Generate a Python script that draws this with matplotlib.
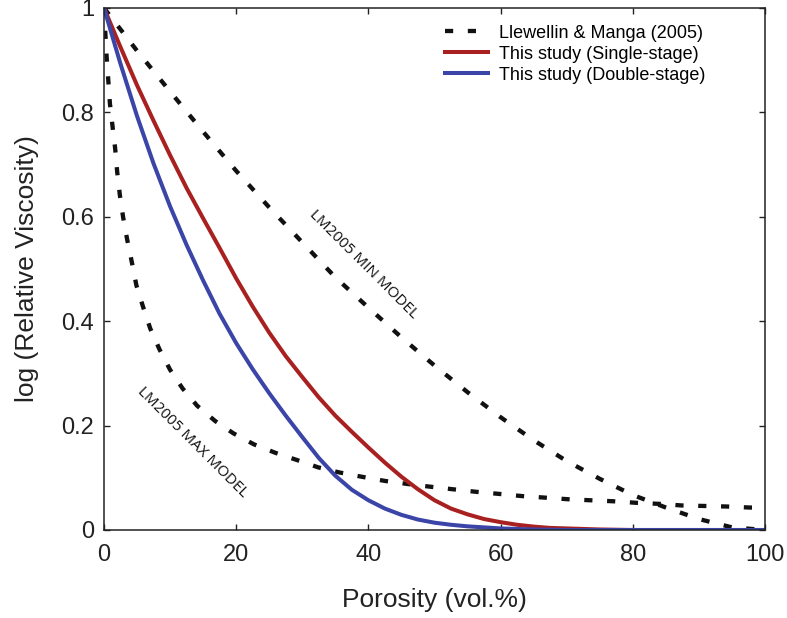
import matplotlib
matplotlib.use("Agg")
import matplotlib.pyplot as plt

# Llewellin & Manga (2005) minimum and maximum models
lm_min_phi = [0, 5, 10, 15, 20, 25, 30, 35, 40, 45, 50, 55, 60, 65, 70, 75, 80, 85, 90, 95, 100]
lm_min_val = [1.0, 0.918, 0.840, 0.763, 0.688, 0.618, 0.551, 0.484, 0.426, 0.369, 0.315,
              0.264, 0.216, 0.172, 0.132, 0.098, 0.067, 0.043, 0.021, 0.005, 0.0]

lm_max_phi = [0, 0.4, 0.9, 1.3, 1.7, 2.0, 2.4, 2.9, 3.5, 4.2, 4.9, 5.9, 7.0, 8.4, 10.0, 11.9,
              14.1, 16.8, 19.6, 22.7, 25.9, 29.2, 32.4, 35.7, 39.0, 42.5, 46.0, 49.3, 52.8,
              56.4, 59.9, 63.2, 66.7, 70.1, 73.5, 77.1, 80.6, 84.1, 87.4, 90.9, 94.2, 97.7, 100]
lm_max_val = [1.0, 0.907, 0.817, 0.773, 0.730, 0.686, 0.642, 0.599, 0.557, 0.514, 0.469, 0.428,
              0.386, 0.346, 0.307, 0.271, 0.238, 0.209, 0.185, 0.164, 0.148, 0.134, 0.120, 0.110,
              0.102, 0.094, 0.088, 0.083, 0.078, 0.073, 0.069, 0.065, 0.062, 0.059, 0.057, 0.055,
              0.052, 0.050, 0.047, 0.046, 0.045, 0.043, 0.043]

# this study
phi = [0, 2.5, 5, 7.5, 10, 12.5, 15, 17.5, 20, 22.5, 25, 27.5, 30, 32.5, 35, 37.5, 40, 42.5,
       45, 47.5, 50, 52.5, 55, 57.5, 60, 62.5, 65, 67.5, 70, 72.5, 75, 80, 90, 100]
single_stage = [1.0, 0.925, 0.852, 0.784, 0.718, 0.655, 0.597, 0.540, 0.482, 0.428, 0.378,
                0.333, 0.293, 0.254, 0.219, 0.188, 0.158, 0.129, 0.102, 0.078, 0.057, 0.041,
                0.030, 0.021, 0.015, 0.010, 0.0065, 0.004, 0.003, 0.002, 0.001, 0.0, 0.0, 0.0]
double_stage = [1.0, 0.893, 0.793, 0.702, 0.620, 0.546, 0.478, 0.414, 0.358, 0.308, 0.262,
                0.219, 0.178, 0.138, 0.104, 0.077, 0.057, 0.041, 0.029, 0.020, 0.014, 0.010,
                0.007, 0.005, 0.003, 0.002, 0.001, 0.0005, 0.0, 0.0, 0.0, 0.0, 0.0, 0.0]

plt.rcParams['font.family'] = ['Liberation Sans', 'DejaVu Sans']

fig = plt.figure(figsize=(7.87, 6.18), dpi=100)
ax = fig.add_axes([0.1321, 0.1424, 0.840, 0.8447])

dots = (0, (1.9, 3.4))
ax.plot(lm_min_phi, lm_min_val, color='#111111', lw=3.1, ls=dots, label='Llewellin & Manga (2005)')
ax.plot(lm_max_phi, lm_max_val, color='#111111', lw=3.1, ls=dots)
ax.plot(phi, single_stage, color='#a8201f', lw=2.9, label='This study (Single-stage)')
ax.plot(phi, double_stage, color='#3b45a8', lw=2.9, label='This study (Double-stage)')

ax.text(39.3, 0.508, 'LM2005 MIN MODEL', rotation=-45, ha='center', va='center',
        rotation_mode='anchor', fontsize=11, family='Open Sans', color='#111111')
ax.text(13.3, 0.168, 'LM2005 MAX MODEL', rotation=-45, ha='center', va='center',
        rotation_mode='anchor', fontsize=11, family='Open Sans', color='#111111')

ax.set_xlim(0, 100)
ax.set_ylim(0, 1)
ax.set_xticks([0, 20, 40, 60, 80, 100])
ax.set_yticks([0, 0.2, 0.4, 0.6, 0.8, 1])
ax.set_yticklabels(['0', '0.2', '0.4', '0.6', '0.8', '1'])
ax.tick_params(direction='in', length=4.5, width=1, top=True, right=True,
               labelsize=17, colors='#222222')
ax.tick_params(axis='x', pad=10)
ax.tick_params(axis='y', pad=7)
for s in ax.spines.values():
    s.set_linewidth(1.1)
    s.set_color('#222222')

ax.set_xlabel('Porosity (vol.%)', fontsize=19, labelpad=16, color='#222222')
ax.set_ylabel('log (Relative Viscosity)', fontsize=19, labelpad=16, color='#222222')

ax.legend(loc='upper left', bbox_to_anchor=(0.516, 0.968), frameon=False, fontsize=13,
          handlelength=2.4, handletextpad=0.6, labelspacing=0.22, borderpad=0,
          borderaxespad=0)

fig.savefig('out.png', dpi=100)
